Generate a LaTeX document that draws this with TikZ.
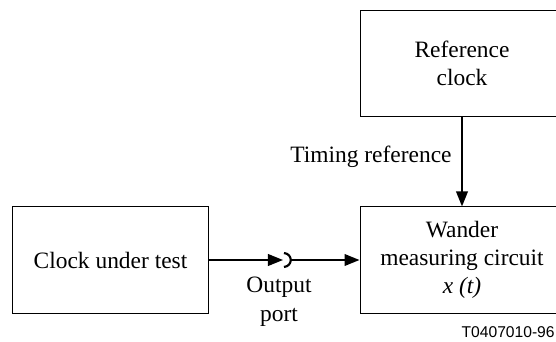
\documentclass[tikz,border=0pt]{standalone}
\usepackage{fontspec}
\setmainfont{Liberation Serif}
\newfontfamily\figsans{Liberation Sans}
\usetikzlibrary{arrows.meta}
\tikzset{
  block/.style={draw,line width=0.5pt,align=center,minimum height=1.91cm,inner sep=0pt},
  sig/.style={line width=0.9pt,-{Triangle[length=0.27cm,width=0.21cm]}}
}
\begin{document}
\begin{tikzpicture}[x=0.01799cm,y=-0.01799cm,font=\fontsize{12}{14.4}\selectfont]
\clip (0,0) rectangle (556,342);
% blocks
\node[block,minimum width=3.54cm] (cut) at (110.5,260) {Clock under test};
\node[block,minimum width=3.67cm] (refclk) at (462,63.5) {Reference\\clock};
\node[block,minimum width=3.67cm] (wander) at (462,260) {Wander\\measuring circuit\\\textit{x (t)}};
% output port
\coordinate (plug) at (283,260);
\coordinate (jack) at (290,260);
\draw[sig] (cut) -- (plug);
\draw[line width=1.1pt] (284,253) .. controls (293,254) and (293,266) .. (284,267);
\draw[sig] (jack) -- (wander);
\node[anchor=north,align=center,inner sep=0pt] (port) at (279,277) {Output\\port};
% timing reference
\draw[sig] (refclk) -- (wander);
\node[anchor=base east,inner sep=0pt] (timing) at (452,163) {Timing reference};
\node[anchor=base east,inner sep=0pt,font=\figsans\fontsize{8}{9.6}\selectfont] (figno) at (555,337) {T0407010-96};
\end{tikzpicture}
\end{document}
